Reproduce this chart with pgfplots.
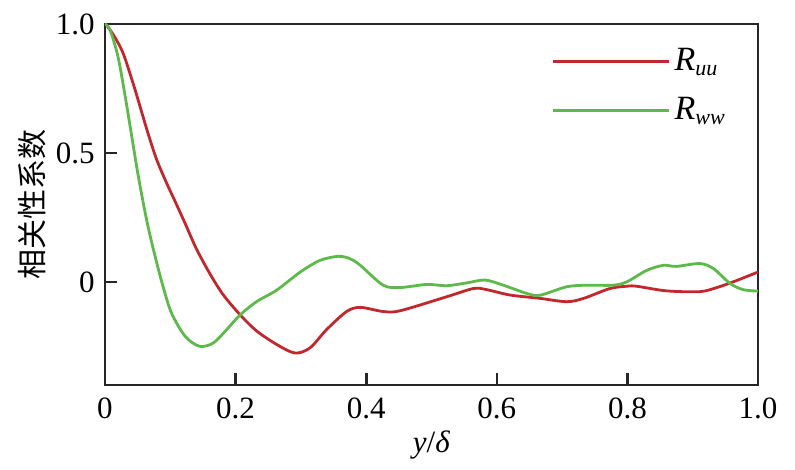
\documentclass[border=0pt]{standalone}
\usepackage{fontspec}
\setmainfont{Liberation Serif}
\newfontfamily\cjk{Noto Sans CJK SC}
\usepackage{pgfplots}
\pgfplotsset{compat=1.18}
\definecolor{cred}{HTML}{C1272D}
\definecolor{cgreen}{HTML}{5DB94A}
\begin{document}
\fontsize{15}{18}\selectfont
\begin{tikzpicture}
\begin{axis}[
  scale only axis,
  width=326.5pt, height=180.5pt,
  xmin=0, xmax=1, ymin=-0.4, ymax=1,
  axis line style={line width=1.3pt, color=black!85},
  tick style={line width=1.3pt, color=black!85},
  tick align=inside,
  major tick length=6pt,
  xtick pos=bottom, ytick pos=left,
  xtick={0,0.2,0.4,0.6,0.8,1.0},
  xticklabels={0,0.2,0.4,0.6,0.8,1.0},
  ytick={0,0.5,1.0},
  yticklabels={0,0.5,1.0},
  /pgf/number format/assume math mode=true,
  tick label style={font=\fontsize{15.5}{18}\selectfont},
  xticklabel style={yshift=-1pt},
  xlabel={\textit{y}/\textit{δ}},
  xlabel style={font=\fontsize{15.5}{18}\selectfont, yshift=4pt},
  ylabel={\cjk 相关性系数},
  ylabel style={font=\fontsize{15}{18}\selectfont\cjk, yshift=-5.5pt},
  legend style={draw=none, fill=none, at={(0.683,0.945)}, anchor=north west,
    font=\fontsize{17}{20}\selectfont, row sep=7pt, inner sep=0pt,
    /tikz/every even column/.append style={column sep=8pt}},
  legend cell align=left,
  legend image code/.code={\draw[#1, line width=1.6pt] (0pt,0pt) -- (58pt,0pt);},
  every axis plot/.append style={line width=1.4pt, smooth, tension=0.5},
]
\addplot[cred] coordinates {
(0,1.0) (0.003,0.994) (0.015,0.949) (0.028,0.885) (0.043,0.770) (0.056,0.660)
(0.066,0.575) (0.079,0.475) (0.094,0.385) (0.107,0.314) (0.123,0.225)
(0.140,0.128) (0.161,0.030) (0.181,-0.050) (0.207,-0.128) (0.232,-0.190) (0.263,-0.243)
(0.291,-0.276) (0.314,-0.256) (0.339,-0.186) (0.370,-0.115) (0.391,-0.099)
(0.426,-0.115) (0.452,-0.112) (0.523,-0.058)
(0.564,-0.026) (0.584,-0.030) (0.620,-0.051) (0.666,-0.064) (0.707,-0.077)
(0.733,-0.064) (0.773,-0.026) (0.799,-0.017) (0.814,-0.017) (0.860,-0.035)
(0.911,-0.038) (0.937,-0.022) (0.962,0.0) (1.0,0.038)
};
\addlegendentry{\textit{R}\raisebox{-0.35ex}{\fontsize{11}{12}\selectfont\textit{uu}}}
\addplot[cgreen] coordinates {
(0,1.0) (0.008,0.975) (0.020,0.872) (0.031,0.718) (0.041,0.564) (0.051,0.41)
(0.064,0.237) (0.077,0.096) (0.089,-0.019) (0.102,-0.122) (0.123,-0.212)
(0.145,-0.25) (0.166,-0.237) (0.186,-0.186) (0.207,-0.128) (0.232,-0.077)
(0.263,-0.032) (0.299,0.038) (0.329,0.083) (0.357,0.099) (0.375,0.090)
(0.391,0.064) (0.426,-0.013) (0.452,-0.022) (0.493,-0.010) (0.523,-0.015) (0.554,-0.004)
(0.582,0.007) (0.610,-0.013) (0.646,-0.045) (0.666,-0.052) (0.707,-0.019)
(0.738,-0.013) (0.778,-0.013) (0.799,0.0) (0.830,0.045) (0.855,0.064)
(0.875,0.060) (0.911,0.071) (0.932,0.051) (0.957,-0.006) (0.977,-0.030)
(1.0,-0.036)
};
\addlegendentry{\textit{R}\raisebox{-0.35ex}{\fontsize{11}{12}\selectfont\textit{ww}}}
\end{axis}
\path (-52.5pt,-42pt) rectangle (345pt,192.5pt);
\end{tikzpicture}
\end{document}
